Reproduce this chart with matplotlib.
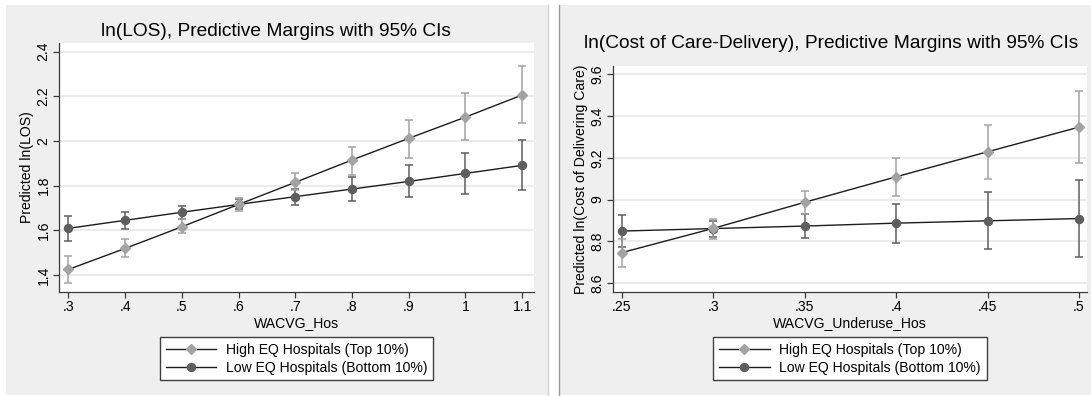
import matplotlib
matplotlib.use("Agg")
import matplotlib.pyplot as plt
from matplotlib.lines import Line2D
from matplotlib.patches import Rectangle

plt.rcParams['font.family'] = ['Liberation Sans', 'DejaVu Sans']

# ---- data: ln(LOS) by WACVG_Hos
los_x = [0.3, 0.4, 0.5, 0.6, 0.7, 0.8, 0.9, 1.0, 1.1]
los_xlabels = ['.3', '.4', '.5', '.6', '.7', '.8', '.9', '1', '1.1']
los_high = [1.425, 1.519, 1.616, 1.716, 1.815, 1.915, 2.012, 2.107, 2.206]
los_high_lo = [1.363, 1.481, 1.590, 1.688, 1.780, 1.848, 1.925, 2.003, 2.079]
los_high_hi = [1.485, 1.561, 1.651, 1.745, 1.858, 1.975, 2.094, 2.216, 2.336]
los_low = [1.609, 1.645, 1.681, 1.716, 1.751, 1.785, 1.819, 1.855, 1.891]
los_low_lo = [1.554, 1.606, 1.652, 1.694, 1.713, 1.730, 1.748, 1.764, 1.779]
los_low_hi = [1.664, 1.684, 1.709, 1.740, 1.785, 1.840, 1.893, 1.948, 2.003]
los_yticks = [1.4, 1.6, 1.8, 2.0, 2.2, 2.4]
los_ylabels = ['1.4', '1.6', '1.8', '2', '2.2', '2.4']

# ---- data: ln(cost of care delivery) by WACVG_Underuse_Hos
cost_x = [0.25, 0.30, 0.35, 0.40, 0.45, 0.50]
cost_xlabels = ['.25', '.3', '.35', '.4', '.45', '.5']
cost_high = [8.746, 8.862, 8.987, 9.109, 9.229, 9.347]
cost_high_lo = [8.679, 8.811, 8.933, 9.018, 9.098, 9.176]
cost_high_hi = [8.813, 8.907, 9.041, 9.198, 9.358, 9.521]
cost_low = [8.849, 8.861, 8.873, 8.887, 8.898, 8.909]
cost_low_lo = [8.771, 8.822, 8.816, 8.794, 8.761, 8.726]
cost_low_hi = [8.926, 8.897, 8.931, 8.978, 9.035, 9.093]
cost_yticks = [8.6, 8.8, 9.0, 9.2, 9.4, 9.6]
cost_ylabels = ['8.6', '8.8', '9', '9.2', '9.4', '9.6']

legend_labels = ['High EQ Hospitals (Top 10%)', 'Low EQ Hospitals (Bottom 10%)']

W, H = 1091, 396
HIGH_C = '#a3a3a3'
LOW_C = '#5e5e5e'
LINE_C = '#1c1c1c'
PANEL_C = '#efefef'
FS = 10.1

fig = plt.figure(figsize=(W / 100, H / 100), dpi=100)
fig.patch.set_facecolor('white')


def px_rect(x0, y0, x1, y1):
    # pixel box (top-left origin) -> figure fraction [l, b, w, h]
    return [x0 / W, 1 - y1 / H, (x1 - x0) / W, (y1 - y0) / H]


# gray graph regions
for x0, x1 in [(6, 548), (559, 1091)]:
    l, b, w, h = px_rect(x0, 5, x1, 395)
    fig.add_artist(Rectangle((l, b), w, h, transform=fig.transFigure,
                             facecolor=PANEL_C, edgecolor='none', zorder=0))
fig.add_artist(Line2D([548 / W, 548 / W], [1 - 395 / H, 1 - 5 / H],
                      transform=fig.transFigure, color='#d2d2d2', lw=1))
fig.add_artist(Line2D([559 / W, 559 / W], [1 - 395 / H, 1 - 5 / H],
                      transform=fig.transFigure, color='#9a9a9a', lw=1))


def draw_panel(box, x, xl, high, hlo, hhi, low, llo, lhi, yt, ytl,
               xlim, ylim, title, title_x, title_y, xlabel, ylabel):
    ax = fig.add_axes(px_rect(*box))
    ax.set_facecolor('white')
    ax.set_xlim(*xlim)
    ax.set_ylim(*ylim)
    ax.set_yticks(yt)
    ax.set_yticklabels(ytl, rotation=90, va='center', fontsize=FS)
    ax.set_xticks(x)
    ax.set_xticklabels(xl, fontsize=FS)
    ax.grid(axis='y', color='#e6e6e6', lw=1.1)
    ax.set_axisbelow(True)
    for s in ['top', 'right']:
        ax.spines[s].set_visible(False)
    for s in ['left', 'bottom']:
        ax.spines[s].set_color('#3a3a3a')
        ax.spines[s].set_linewidth(0.9)
    ax.tick_params(length=4, width=0.9, color='#3a3a3a', pad=2)

    # confidence intervals
    ax.errorbar(x, low, yerr=[[m - a for m, a in zip(low, llo)],
                              [b - m for m, b in zip(low, lhi)]],
                fmt='none', ecolor=LOW_C, elinewidth=1.1, capsize=2.6,
                capthick=1.1, zorder=2)
    ax.errorbar(x, high, yerr=[[m - a for m, a in zip(high, hlo)],
                               [b - m for m, b in zip(high, hhi)]],
                fmt='none', ecolor=HIGH_C, elinewidth=1.1, capsize=2.6,
                capthick=1.1, zorder=2)
    # connected margins
    ax.plot(x, low, color=LINE_C, lw=1.0, zorder=3)
    ax.plot(x, high, color=LINE_C, lw=1.0, zorder=3)
    ax.plot(x, low, ls='none', marker='o', ms=5.8, color=LOW_C, mec=LOW_C,
            zorder=4)
    ax.plot(x, high, ls='none', marker='D', ms=5.0, color=HIGH_C,
            mec=HIGH_C, zorder=5)

    ax.set_xlabel(xlabel, fontsize=FS, labelpad=1)
    ax.set_ylabel(ylabel, fontsize=FS, labelpad=2)
    fig.text(title_x / W, 1 - title_y / H, title, fontsize=13.8,
             ha='center', va='center')

    handles = [Line2D([], [], color=LINE_C, lw=1.0, marker='D', ms=5.0,
                      mfc=HIGH_C, mec=HIGH_C),
               Line2D([], [], color=LINE_C, lw=1.0, marker='o', ms=5.8,
                      mfc=LOW_C, mec=LOW_C)]
    cx = (box[0] + box[2]) / 2
    leg = fig.legend(handles, legend_labels, loc='upper center',
                     bbox_to_anchor=(cx / W, 1 - 337 / H), fontsize=FS,
                     numpoints=1, handlelength=3.6, handletextpad=0.7,
                     labelspacing=0.3, borderpad=0.4, borderaxespad=0,
                     fancybox=False, framealpha=1, edgecolor='#404040')
    leg.get_frame().set_linewidth(1.0)
    return ax


draw_panel((59, 43, 534, 292), los_x, los_xlabels,
           los_high, los_high_lo, los_high_hi,
           los_low, los_low_lo, los_low_hi,
           los_yticks, los_ylabels, (0.2835, 1.121), (1.324, 2.439),
           'ln(LOS), Predictive Margins with 95% CIs', 276, 31,
           'WACVG_Hos', 'Predicted ln(LOS)')

draw_panel((613, 66, 1087, 292), cost_x, cost_xlabels,
           cost_high, cost_high_lo, cost_high_hi,
           cost_low, cost_low_lo, cost_low_hi,
           cost_yticks, cost_ylabels, (0.2451, 0.5044), (8.557, 9.64),
           'ln(Cost of Care-Delivery), Predictive Margins with 95% CIs',
           831, 44, 'WACVG_Underuse_Hos',
           'Predicted ln(Cost of Delivering Care)')

fig.savefig('out.png', dpi=100)
